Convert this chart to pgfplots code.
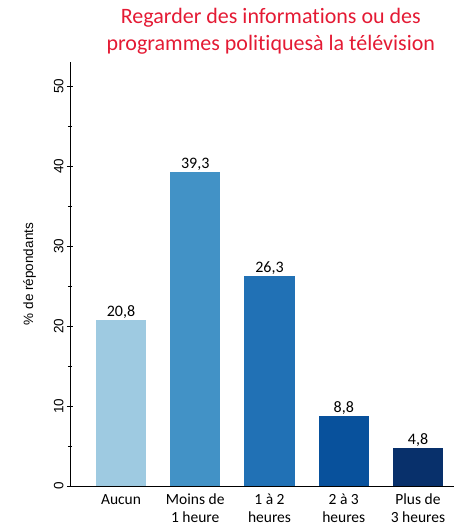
\documentclass[border=0pt]{standalone}
\usepackage{pgfplots}
\pgfplotsset{compat=1.18}
\usepackage{fontspec}
\setmainfont{Carlito}[Ligatures=NoCommon]
\newfontfamily\arial{Liberation Sans}
\definecolor{titlered}{RGB}{228,26,52}
\definecolor{b1}{HTML}{9ECAE1}
\definecolor{b2}{HTML}{4292C6}
\definecolor{b3}{HTML}{2171B5}
\definecolor{b4}{HTML}{08519C}
\definecolor{b5}{HTML}{08306B}
\begin{document}
\begin{tikzpicture}
\begin{axis}[
  at={(0,0)}, anchor=south west,
  scale only axis,
  width=384bp, height=424bp,
  xmin=-0.687, xmax=4.485,
  ymin=0, ymax=53,
  axis x line=bottom, axis y line=left,
  axis line style={-, line width=1pt, black},
  xtick={0,1,2,3,4},
  xticklabels={Aucun, {Moins de\\1 heure}, {1 à 2\\heures}, {2 à 3\\heures}, {Plus de\\3 heures}},
  xticklabel style={align=center, font=\fontsize{15.5bp}{18bp}\selectfont, yshift=0bp, inner ysep=2bp},
  x tick style={draw=none},
  ytick={0,10,20,30,40,50},
  minor y tick num=1,
  tick align=center,
  major tick length=6bp, minor tick length=4bp,
  y tick style={black, line width=0.8pt},
  /pgf/number format/assume math mode=true,
  yticklabel style={rotate=90, anchor=south, font=\arial\fontsize{13.5bp}{15bp}\selectfont, xshift=0bp},
  ylabel={\% de répondants},
  ylabel style={font=\arial\fontsize{13.5bp}{15bp}\selectfont, at={(axis description cs:-0.105,0.5)}, anchor=center},
  ybar, bar width=50bp, bar shift=0pt,
  nodes near coords={\pgfmathprintnumber[fixed, fixed zerofill, precision=1, use comma]{\pgfplotspointmeta}},
  nodes near coords style={font=\fontsize{16bp}{18bp}\selectfont, black, inner sep=1bp},
  title={Regarder des informations ou des\\programmes politiquesà la télévision},
  title style={at={(axis description cs:0.523,1)}, anchor=south, align=center, text=titlered, font=\fontsize{22bp}{27bp}\selectfont, yshift=-2bp},
  clip=false,
]
\addplot[fill=b1, draw=none] coordinates {(0,20.8)};
\addplot[fill=b2, draw=none] coordinates {(1,39.3)};
\addplot[fill=b3, draw=none] coordinates {(2,26.3)};
\addplot[fill=b4, draw=none] coordinates {(3,8.8)};
\addplot[fill=b5, draw=none] coordinates {(4,4.8)};
\end{axis}
\pgfresetboundingbox
\path (-70bp,-40bp) rectangle (384bp,486bp);
\end{tikzpicture}
\end{document}
